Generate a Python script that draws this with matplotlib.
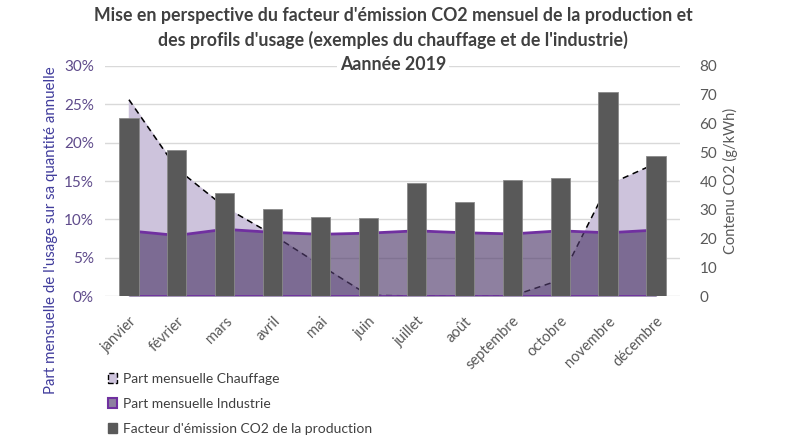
import numpy as np
import matplotlib.pyplot as plt
from matplotlib.patches import Patch
from matplotlib.ticker import FuncFormatter

plt.rcParams['font.family'] = ['Lato', 'DejaVu Sans']

# data
mois = ['janvier', 'février', 'mars', 'avril', 'mai', 'juin', 'juillet',
        'août', 'septembre', 'octobre', 'novembre', 'décembre']
chauffage = [25.6, 16.6, 11.6, 8.0, 4.0, 0.1, 0.0, 0.0, 0.0, 2.1, 14.5, 17.3]
industrie = [8.5, 7.9, 8.7, 8.3, 8.05, 8.2, 8.5, 8.25, 8.1, 8.5, 8.25, 8.6]
co2 = [61.8, 50.9, 35.9, 30.1, 27.4, 27.0, 39.2, 32.8, 40.3, 40.9, 70.8, 48.6]

x = np.arange(len(mois))
grey_txt = '#595959'

fig = plt.figure(figsize=(7.86, 4.45), dpi=100)
ax = fig.add_axes([0.1336, 0.3348, 0.7314, 0.5169])
ax2 = ax.twinx()

# areas (left axis)
ax.fill_between(x, 0, chauffage, color='#cdc3dc', zorder=2)
ax.plot(x, chauffage, color='black', ls=(0, (4, 3)), lw=1.1, zorder=3)
ax.fill_between(x, 0, industrie, color='#513c6d', alpha=0.65, lw=0, zorder=4)
ax.plot(x, industrie, color='#7030a0', lw=2, zorder=5)
ax.plot([x[0], x[-1]], [0, 0], color='#7030a0', lw=2, zorder=5)

ax.set_xlim(-0.5, len(mois) - 0.5)
ax.set_ylim(0, 30)
ax.set_yticks(np.arange(0, 31, 5))
ax.yaxis.set_major_formatter(FuncFormatter(lambda v, p: f'{v:.0f}%'))
ax.grid(axis='y', color='#d9d9d9', lw=1, zorder=0)
ax.set_axisbelow(True)
ax.tick_params(axis='y', length=0, labelsize=11, labelcolor='#5f4b8b', pad=8)
ax.set_xticks(x)
ax.set_xticklabels(mois, rotation=45, ha='right', rotation_mode='anchor')
ax.tick_params(axis='x', length=0, labelsize=10.5, labelcolor=grey_txt, pad=13)
for s in ax.spines.values():
    s.set_visible(False)

# bars (right axis)
ax2.bar(x, co2, width=0.4, color='#595959', edgecolor='#8a8a8a', lw=0.6, zorder=3)
ax2.set_ylim(0, 80)
ax2.set_yticks(np.arange(0, 81, 10))
ax2.tick_params(axis='y', length=0, labelsize=11, labelcolor=grey_txt, pad=14)
ax2.set_ylabel('Contenu CO2 (g/kWh)', fontsize=10.5, color=grey_txt, labelpad=4)
for s in ax2.spines.values():
    s.set_visible(False)

fig.text(0.065, 0.483, "Part mensuelle de l'usage sur sa quantité annuelle",
         rotation=90, va='center', ha='center', fontsize=10.8, color='#403c9c')

# title
fig.text(0.5, 0.985, "Mise en perspective du facteur d'émission CO2 mensuel de la production et\n"
         "des profils d'usage (exemples du chauffage et de l'industrie)",
         ha='center', va='top', fontsize=12.8, fontweight='bold', color='#404040',
         linespacing=1.45)
fig.text(0.5, 0.856, "Aannée 2019", ha='center', va='center', fontsize=12.8,
         fontweight='bold', color='#404040',
         bbox=dict(facecolor='white', edgecolor='none', pad=2))

handles = [
    Patch(facecolor='#cdc3dc', edgecolor='black', linestyle='--', lw=1),
    Patch(facecolor='#8e80a0', edgecolor='#7030a0', lw=1.5),
    Patch(facecolor='#595959', edgecolor='#595959'),
]
labels = ['Part mensuelle Chauffage', 'Part mensuelle Industrie',
          "Facteur d'émission CO2 de la production"]
fig.legend(handles, labels, loc='upper left', bbox_to_anchor=(0.13, 0.175),
           frameon=False, fontsize=10, labelcolor='#404040', handlelength=0.7,
           handleheight=0.7, handletextpad=0.4, labelspacing=0.95, borderaxespad=0)

fig.savefig('out.png', dpi=100)
